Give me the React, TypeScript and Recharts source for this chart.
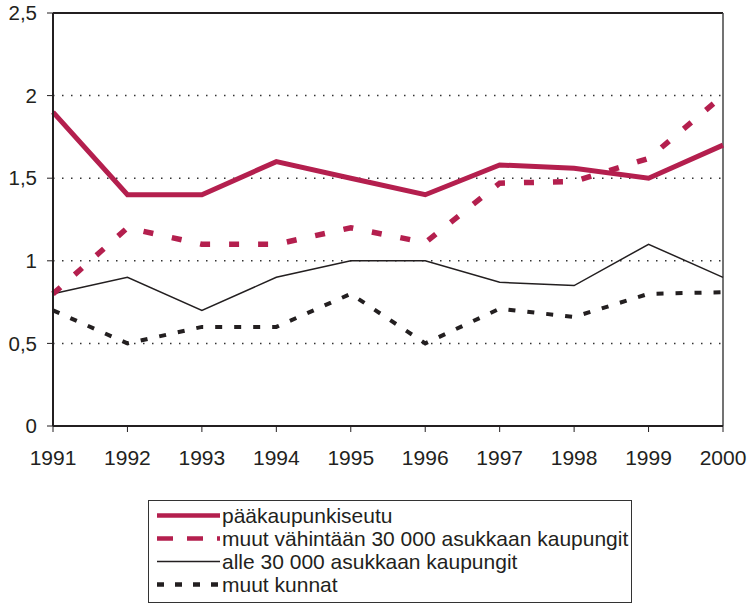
import { CartesianGrid, Legend, Line, LineChart, ReferenceLine, XAxis, YAxis } from "recharts";

const years = ["1991", "1992", "1993", "1994", "1995", "1996", "1997", "1998", "1999", "2000"];
const paakaupunkiseutu = [1.9, 1.4, 1.4, 1.6, 1.5, 1.4, 1.58, 1.56, 1.5, 1.7];
const muutVahintaan = [0.8, 1.2, 1.1, 1.1, 1.2, 1.11, 1.47, 1.48, 1.62, 2.0];
const alle30000 = [0.8, 0.9, 0.7, 0.9, 1.0, 1.0, 0.87, 0.85, 1.1, 0.9];
const muutKunnat = [0.7, 0.5, 0.6, 0.6, 0.8, 0.5, 0.71, 0.66, 0.8, 0.81];
const yTicks = [0, 0.5, 1, 1.5, 2, 2.5];

const PINK = "#b41f4e";
const BLACK = "#231f20";
const FONT = '"Liberation Sans", Arial, sans-serif';

const data = years.map((year, i) => ({
    year,
    paakaupunkiseutu: paakaupunkiseutu[i],
    muutVahintaan: muutVahintaan[i],
    alle30000: alle30000[i],
    muutKunnat: muutKunnat[i],
}));

// drawn back to front; legend lists them in reverse
const series = [
    { key: "muutKunnat", name: "muut kunnat", color: BLACK, width: 4, dash: "7 12", legendDash: "7 11" },
    { key: "alle30000", name: "alle 30 000 asukkaan kaupungit", color: BLACK, width: 1.5, dash: undefined, legendDash: undefined },
    { key: "muutVahintaan", name: "muut vähintään 30 000 asukkaan kaupungit", color: PINK, width: 5.5, dash: "10 19", legendDash: "16 14" },
    { key: "paakaupunkiseutu", name: "pääkaupunkiseutu", color: PINK, width: 5, dash: undefined, legendDash: undefined },
];

function LegendBox() {
    return (
        <div
            style={{
                width: 484,
                height: 103,
                boxSizing: "border-box",
                border: "1px solid #333",
                padding: "3px 0 0 7px",
                fontFamily: FONT,
                fontSize: 21,
                color: BLACK,
                background: "#fff",
            }}
        >
            {[...series].reverse().map((s) => (
                <div key={s.key} style={{ height: 23, lineHeight: "23px", display: "flex", alignItems: "center" }}>
                    <svg width={64} height={23} style={{ flex: "none" }}>
                        <line
                            x1={1}
                            x2={64}
                            y1={11.5}
                            y2={11.5}
                            stroke={s.color}
                            strokeWidth={s.width > 3 ? 4.5 : 1.5}
                            strokeDasharray={s.legendDash}
                        />
                    </svg>
                    <span style={{ marginLeft: 2, whiteSpace: "nowrap" }}>{s.name}</span>
                </div>
            ))}
        </div>
    );
}

export default function App() {
    return (
        <div style={{ position: "absolute", left: 0, top: 0, width: 748, height: 605, background: "#fff" }}>
            <LineChart
                width={748}
                height={605}
                data={data}
                margin={{ top: 13, right: 25, left: 0, bottom: 125 }}
                style={{ fontFamily: FONT }}
            >
                <CartesianGrid
                    horizontal
                    vertical={false}
                    stroke="#333"
                    strokeWidth={1.5}
                    strokeDasharray="1.5 7.5"
                />
                <XAxis
                    dataKey="year"
                    height={54}
                    tickSize={6}
                    tickMargin={18}
                    axisLine={{ stroke: BLACK, strokeWidth: 2 }}
                    tickLine={{ stroke: BLACK, strokeWidth: 1 }}
                    tick={{ fill: BLACK, fontSize: 21 }}
                    interval={0}
                />
                <YAxis
                    width={53}
                    domain={[0, 2.5]}
                    ticks={yTicks}
                    tickSize={6}
                    tickMargin={10}
                    axisLine={{ stroke: BLACK, strokeWidth: 2 }}
                    tickLine={{ stroke: BLACK, strokeWidth: 1 }}
                    tick={{ fill: BLACK, fontSize: 20.5 }}
                    tickFormatter={(v: number) => String(v).replace(".", ",")}
                />
                <ReferenceLine y={2.5} stroke={BLACK} strokeWidth={2} />
                <ReferenceLine x="2000" stroke="#444" strokeWidth={1.5} />
                {series.map((s) => (
                    <Line
                        key={s.key}
                        type="linear"
                        dataKey={s.key}
                        name={s.name}
                        stroke={s.color}
                        strokeWidth={s.width}
                        strokeDasharray={s.dash}
                        dot={false}
                        activeDot={false}
                        isAnimationActive={false}
                    />
                ))}
                <Legend
                    layout="horizontal"
                    align="center"
                    verticalAlign="middle"
                    content={() => <LegendBox />}
                    wrapperStyle={{ position: "absolute", left: 148, top: 500, width: 484, height: 103 }}
                />
            </LineChart>
        </div>
    );
}
